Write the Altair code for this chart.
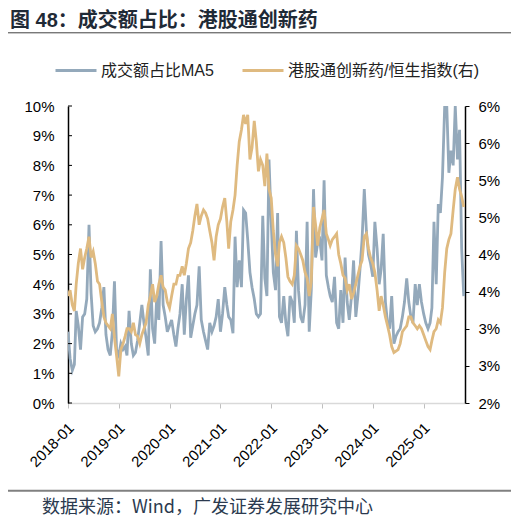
import altair as alt
import pandas as pd

# ---- data (semi-monthly points: 1st and 16th of each month) ----
BLUE_NAME = "成交额占比MA5"
TAN_NAME = "港股通创新药/恒生指数(右)"

# 成交额占比MA5 (%), left axis
share_2018 = [2.4, 1.5, 1.1, 1.3, 3.1, 2.6, 1.8, 2.9, 3.0, 3.5, 6.0, 3.7,
              2.6, 2.4, 2.5, 2.7, 3.2, 3.9, 2.3, 1.8, 1.6, 2.4, 4.1, 1.8]
share_2019 = [1.6, 2.0, 1.8, 1.9, 1.6, 3.1, 2.0, 1.6, 1.7, 2.1, 2.7, 3.3,
              2.7, 2.2, 1.6, 4.5, 2.5, 2.0, 3.6, 2.8, 5.45, 3.3, 2.9, 2.4]
share_2020 = [2.6, 2.8, 2.3, 1.9, 2.5, 3.0, 4.0, 2.3, 3.5, 4.3, 2.2, 2.6,
              3.0, 3.3, 4.6, 2.8, 2.4, 2.1, 1.8, 2.7, 2.4, 2.6, 2.9, 3.5]
share_2021 = [2.4, 3.0, 3.9, 3.3, 2.9, 2.8, 2.35, 5.6, 3.9, 4.8, 3.9, 6.5,
              6.4, 5.5, 4.4, 3.9, 3.5, 3.0, 2.9, 3.0, 6.3, 4.2, 3.6, 8.2]
share_2022 = [6.1, 4.4, 3.8, 6.4, 2.9, 2.7, 3.6, 2.7, 2.25, 3.6, 3.4, 2.7,
              5.8, 3.8, 2.9, 2.7, 3.3, 6.1, 2.4, 3.8, 7.2, 4.9, 5.4, 5.5]
share_2023 = [4.8, 7.5, 4.3, 3.9, 3.6, 3.4, 4.25, 2.7, 2.5, 3.8, 2.7, 4.9,
              3.4, 2.8, 3.6, 4.8, 2.9, 3.6, 4.5, 5.5, 7.2, 5.8, 5.0, 4.7]
share_2024 = [4.25, 6.1, 5.2, 4.0, 4.5, 5.7, 3.4, 2.7, 2.5, 3.6, 2.0, 2.25,
              2.4, 2.5, 2.9, 3.4, 4.2, 3.4, 2.9, 2.7, 4.0, 3.3, 4.0, 3.4]
share_2025 = [3.0, 2.7, 2.5, 2.7, 3.2, 6.1, 4.0, 6.7, 6.4, 7.6, 10.0, 10.0,
              7.75, 8.5, 8.0, 10.0, 8.2, 9.2, 5.2, 3.6]

# 港股通创新药/恒生指数 (%), right axis
ratio_2018 = [3.44, 3.52, 3.32, 3.24, 3.60, 3.88, 4.08, 3.80, 3.96, 4.08, 4.24, 3.96,
              4.04, 3.88, 3.64, 3.60, 3.36, 3.16, 3.08, 3.04, 3.00, 3.20, 2.88, 2.64]
ratio_2019 = [2.36, 2.72, 2.80, 2.90, 3.00, 3.00, 2.96, 3.08, 2.92, 2.90, 2.80, 2.92,
              3.00, 3.08, 3.32, 3.44, 3.60, 3.36, 3.44, 3.60, 3.72, 3.56, 3.52, 3.36]
ratio_2020 = [3.28, 3.44, 3.60, 3.60, 3.72, 3.72, 3.84, 3.72, 3.88, 4.08, 4.16, 4.32,
              4.52, 4.68, 4.40, 4.52, 4.60, 4.56, 4.48, 4.32, 4.16, 3.92, 4.24, 4.40]
ratio_2021 = [4.48, 4.64, 4.76, 4.44, 4.08, 4.44, 4.60, 4.80, 5.20, 5.52, 5.68, 5.88,
              5.76, 5.88, 5.28, 5.44, 5.80, 5.52, 5.12, 5.28, 5.20, 4.92, 5.36, 4.88]
ratio_2022 = [4.76, 4.32, 4.00, 3.84, 4.16, 4.24, 4.16, 3.96, 3.70, 3.64, 3.60, 3.72,
              4.12, 4.08, 4.00, 3.92, 3.76, 3.68, 3.44, 3.64, 4.64, 4.40, 4.12, 4.36]
ratio_2023 = [4.48, 4.60, 4.28, 4.20, 4.12, 4.20, 4.24, 4.28, 4.00, 3.88, 3.72, 3.68,
              3.52, 3.60, 3.40, 3.48, 3.60, 3.72, 3.84, 3.92, 4.24, 4.28, 4.08, 3.96]
ratio_2024 = [3.88, 3.76, 3.52, 3.24, 3.44, 3.32, 3.16, 3.04, 2.92, 2.76, 2.68, 2.70,
              2.72, 2.80, 2.96, 3.00, 3.04, 3.16, 3.16, 3.08, 3.04, 3.00, 3.04, 3.00]
ratio_2025 = [2.92, 2.84, 2.76, 2.72, 2.84, 2.96, 3.00, 3.12, 3.08, 3.28, 3.76, 4.08,
              4.20, 4.28, 4.60, 4.88, 5.04, 4.88, 4.78, 4.64]

X_TICK_YEARS = [2018, 2019, 2020, 2021, 2022, 2023, 2024, 2025]
LEFT_TICKS = [0, 1, 2, 3, 4, 5, 6, 7, 8, 9, 10]
RIGHT_TICKS = [2.0, 2.5, 3.0, 3.5, 4.0, 4.5, 5.0, 5.5, 6.0]

TITLE = "图 48：成交额占比：港股通创新药"
SOURCE = "数据来源：Wind，广发证券发展研究中心"

share = (share_2018 + share_2019 + share_2020 + share_2021 + share_2022
         + share_2023 + share_2024 + share_2025)
ratio = (ratio_2018 + ratio_2019 + ratio_2020 + ratio_2021 + ratio_2022
         + ratio_2023 + ratio_2024 + ratio_2025)

months = pd.date_range("2018-01-01", "2025-10-01", freq="MS")
dates = []
for m in months:
    dates.append(m)
    dates.append(m + pd.Timedelta(days=15))
dates = dates[:len(share)]

df = pd.DataFrame({"date": [d.strftime("%Y-%m-%d") for d in dates],
                   "share": share, "ratio": ratio})

# ---- styling ----
BLUE = "#94a9bb"
TAN = "#dfba80"
LATIN = "'Liberation Sans', 'Noto Sans CJK SC', sans-serif"
CJK = "'Noto Sans CJK SC', 'Liberation Sans', sans-serif"

color_scale = alt.Scale(domain=[BLUE_NAME, TAN_NAME], range=[BLUE, TAN])
legend = alt.Legend(orient="none", legendX=-14, legendY=-57.5, direction="horizontal",
                    columns=2, title=None, symbolType="stroke", symbolSize=1681,
                    symbolStrokeWidth=3, labelFont=LATIN, labelFontSize=16,
                    labelColor="#222222", columnPadding=22, labelOffset=3,
                    padding=0, labelLimit=400)

x_enc = alt.X(
    "date:T",
    scale=alt.Scale(domain=[alt.DateTime(year=2018, month=1, date=1),
                            alt.DateTime(year=2025, month=10, date=25)]),
    axis=alt.Axis(values=[alt.DateTime(year=y, month=1, date=1) for y in X_TICK_YEARS],
                  format="%Y-%m", labelAngle=-45, title=None, grid=False,
                  domainColor="#d9d9d9", domainWidth=1.5, tickColor="#bfbfbf",
                  tickSize=5, labelFont=LATIN, labelFontSize=15, labelColor="#000000",
                  labelPadding=12, labelOffset=-2, labelOverlap=False, labelFlush=False),
)

base = alt.Chart(df)

blue_line = base.transform_calculate(series=f"'{BLUE_NAME}'").mark_line(
    strokeWidth=2.8, clip=True
).encode(
    x=x_enc,
    y=alt.Y("share:Q", scale=alt.Scale(domain=[0, 10]),
            axis=alt.Axis(orient="left", values=LEFT_TICKS, labelExpr="datum.value + '%'",
                          title=None, grid=False, ticks=False, tickSize=0,
                          domainColor="#000000", domainWidth=1.5, labelPadding=14,
                          labelFont=LATIN, labelFontSize=15, labelColor="#000000")),
    color=alt.Color("series:N", scale=color_scale, legend=legend),
)

tan_line = base.transform_calculate(series=f"'{TAN_NAME}'").mark_line(
    strokeWidth=2.8, clip=True
).encode(
    x=x_enc,
    y=alt.Y("ratio:Q", scale=alt.Scale(domain=[2, 6]),
            axis=alt.Axis(orient="right", values=RIGHT_TICKS,
                          labelExpr="round(datum.value) + '%'",
                          title=None, grid=False, tickSize=4, tickColor="#000000",
                          domainColor="#000000", domainWidth=1.5, labelPadding=9,
                          labelFont=LATIN, labelFontSize=15, labelColor="#000000")),
    color=alt.Color("series:N", scale=color_scale, legend=legend),
)

left_ticks = alt.Chart(pd.DataFrame({"v": LEFT_TICKS})).mark_rule(
    color="#000000", strokeWidth=1
).encode(
    x=alt.value(0), x2=alt.value(4),
    y=alt.Y("v:Q", scale=alt.Scale(domain=[0, 10]), axis=None),
)

one = alt.Data(values=[{"k": 1}])
title_text = alt.Chart(one).mark_text(
    text=TITLE, align="left", baseline="middle", font=LATIN, fontSize=20,
    fontWeight="bold", color="#1f2a36"
).encode(x=alt.value(-58), y=alt.value(-85))

title_rule = alt.Chart(one).mark_rule(color="#404040", strokeWidth=1).encode(
    x=alt.value(-60), x2=alt.value(445), y=alt.value(-73.2))

bottom_rule = alt.Chart(one).mark_rule(color="#808080", strokeWidth=2).encode(
    x=alt.value(-60), x2=alt.value(445), y=alt.value(384.7))

source_text = alt.Chart(one).mark_text(
    text=SOURCE, align="left", baseline="middle", font=CJK, fontSize=18,
    color="#2b3a4f"
).encode(x=alt.value(-26), y=alt.value(402))

chart = alt.layer(
    blue_line, tan_line, left_ticks, title_text, title_rule, bottom_rule, source_text
).resolve_scale(
    y="independent"
).properties(
    width=397, height=297,
    padding={"left": 60, "top": 98, "right": 46, "bottom": 118},
    autosize=alt.AutoSizeParams(type="none"),
).configure_view(stroke=None)

chart.save("out.html", embed_options={"renderer": "svg", "actions": False})
